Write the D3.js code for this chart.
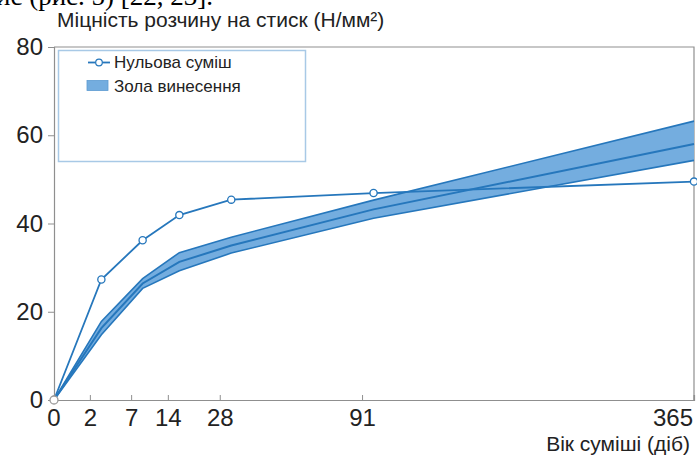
<!DOCTYPE html>
<html>
<head>
<meta charset="utf-8">
<script src="https://cdn.jsdelivr.net/npm/d3@7"></script>
<style>
  body { margin: 0; background: #fff; }
  svg { display: block; font-family: "Liberation Sans", Arial, sans-serif; }
</style>
</head>
<body>
<div id="chart"></div>
<script>
/* global d3 */

// age of the mix, days
const days = [0, 2, 7, 14, 28, 91, 365];
const tickDays = [0, 2, 7, 14, 28, 91, 365];
const yTicks = [0, 20, 40, 60, 80];

// compressive strength, N/mm2
const nullMix = [0, 27.3, 36.2, 41.9, 45.4, 46.9, 49.5];
const ashMid = [0, 16.3, 26.4, 31.3, 35.0, 43.2, 58.0];
const ashHigh = [0, 17.8, 27.5, 33.4, 36.9, 45.3, 63.2];
const ashLow = [0, 14.8, 25.3, 29.3, 33.3, 41.2, 54.3];

const legendLabels = ['Нульова суміш', 'Зола винесення'];
const yTitle = 'Міцність розчину на стиск (Н/мм²)';
const xTitle = 'Вік суміші (діб)';
const pageText = 'ис (рис. 5) [22, 23].';

const W = 697;
const H = 455;
const blue = '#2677bc';
const fill = '#74addf';
const grey = '#8f8f8f';

const svg = d3.select('#chart').append('svg')
  .attr('width', W)
  .attr('height', H);

// clipped line of the surrounding page text
svg.append('text')
  .attr('x', -4)
  .attr('y', 5)
  .attr('font-family', '"Liberation Serif", "Times New Roman", serif')
  .attr('font-size', 27)
  .attr('fill', '#000')
  .text(pageText);

const x = d3.scaleSqrt().domain([0, 365]).range([54, 694]);
const y = d3.scaleLinear().domain([0, 80]).range([400, 47]);

// frame
svg.append('path')
  .attr('d', `M${x(0)},${y(80)}H${x(365)}V${y(0)}`)
  .attr('fill', 'none')
  .attr('stroke', grey)
  .attr('stroke-width', 1.2);

// y axis
const yAxis = svg.append('g')
  .attr('transform', `translate(${x(0)},0)`)
  .call(d3.axisLeft(y).tickValues(yTicks).tickSize(6).tickPadding(5));
yAxis.select('.domain').attr('stroke', grey).attr('stroke-width', 1.2);
yAxis.selectAll('.tick line').attr('stroke', grey);
yAxis.selectAll('.tick text')
  .attr('font-size', 24)
  .attr('fill', '#222')
  .attr('font-family', '"Liberation Sans", Arial, sans-serif');

// x axis: interior ticks sit a bit left of the data points in the original
const tickShift = d => (d === 0 || d === 365 ? 0 : -11);
const xAxis = svg.append('g')
  .attr('transform', `translate(0,${y(0)})`)
  .call(d3.axisBottom(x).tickValues(tickDays).tickSize(-5).tickPadding(9)
    .tickFormat(d3.format('d')));
xAxis.select('.domain').attr('stroke', grey).attr('stroke-width', 1.2);
xAxis.selectAll('.tick')
  .attr('transform', d => `translate(${x(d) + tickShift(d)},0)`);
xAxis.selectAll('.tick line').attr('stroke', grey);
xAxis.selectAll('.tick text')
  .attr('font-size', 24)
  .attr('fill', '#222')
  .attr('font-family', '"Liberation Sans", Arial, sans-serif')
  .attr('text-anchor', d => (d === 365 ? 'end' : 'middle'))
  .attr('dx', d => (d === 365 ? -1 : 0));

// titles
svg.append('text')
  .attr('x', 57)
  .attr('y', 27)
  .attr('font-size', 21)
  .attr('fill', '#222')
  .text(yTitle);

svg.append('text')
  .attr('x', 690)
  .attr('y', 451)
  .attr('text-anchor', 'end')
  .attr('font-size', 21)
  .attr('fill', '#222')
  .text(xTitle);

// fly ash band
const rows = days.map((d, i) => ({
  d, lo: ashLow[i], hi: ashHigh[i], mid: ashMid[i], nul: nullMix[i],
}));

svg.append('path')
  .datum(rows)
  .attr('d', d3.area().x(r => x(r.d)).y0(r => y(r.lo)).y1(r => y(r.hi)))
  .attr('fill', fill)
  .attr('stroke', 'none');

['lo', 'hi', 'mid'].forEach((k) => {
  svg.append('path')
    .datum(rows)
    .attr('d', d3.line().x(r => x(r.d)).y(r => y(r[k])))
    .attr('fill', 'none')
    .attr('stroke', blue)
    .attr('stroke-width', k === 'mid' ? 2 : 1.6);
});

// null mix line with open markers
svg.append('path')
  .datum(rows)
  .attr('d', d3.line().x(r => x(r.d)).y(r => y(r.nul)))
  .attr('fill', 'none')
  .attr('stroke', blue)
  .attr('stroke-width', 1.8);

svg.selectAll('circle.nul')
  .data(rows)
  .enter().append('circle')
  .attr('class', 'nul')
  .attr('cx', r => x(r.d))
  .attr('cy', r => y(r.nul))
  .attr('r', r => (r.d === 0 ? 4 : 3.6))
  .attr('fill', '#fff')
  .attr('stroke', r => (r.d === 0 ? '#9a9a9a' : blue))
  .attr('stroke-width', 1.3);

// legend
const lg = svg.append('g');
lg.append('rect')
  .attr('x', 58.5)
  .attr('y', 50.5)
  .attr('width', 247)
  .attr('height', 111)
  .attr('fill', '#fff')
  .attr('stroke', '#a8c9e6')
  .attr('stroke-width', 1.5);

lg.append('line')
  .attr('x1', 88).attr('x2', 110)
  .attr('y1', 62.5).attr('y2', 62.5)
  .attr('stroke', blue)
  .attr('stroke-width', 1.8);
lg.append('circle')
  .attr('cx', 99).attr('cy', 62.5).attr('r', 3.3)
  .attr('fill', '#fff')
  .attr('stroke', blue)
  .attr('stroke-width', 1.2);
lg.append('rect')
  .attr('x', 87).attr('y', 80.5)
  .attr('width', 21).attr('height', 10)
  .attr('fill', fill)
  .attr('stroke', '#5d9bd2')
  .attr('stroke-width', 0.8);

lg.selectAll('text')
  .data(legendLabels)
  .enter().append('text')
  .attr('x', 114)
  .attr('y', (d, i) => 68 + i * 24)
  .attr('font-size', 17)
  .attr('fill', '#222')
  .text(d => d);
</script>
</body>
</html>
